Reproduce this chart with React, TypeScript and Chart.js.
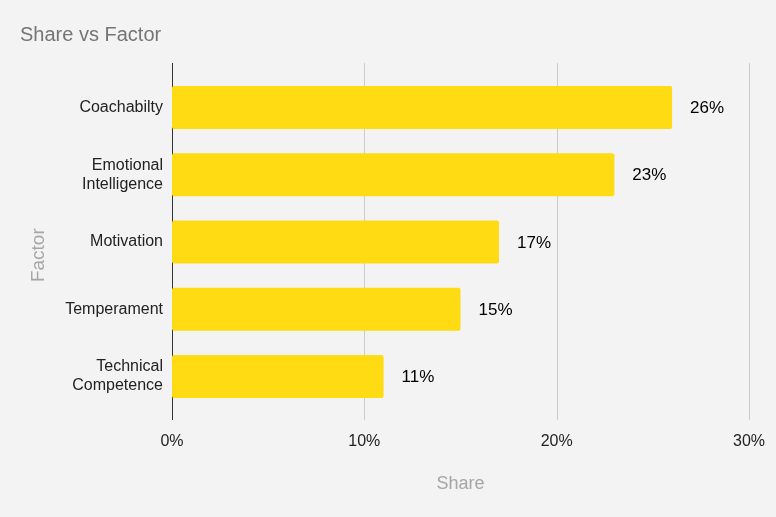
import React, { useEffect, useRef } from "react";
import { Chart, registerables } from "chart.js";

Chart.register(...registerables);

const categories: (string | string[])[] = [
  "Coachabilty",
  ["Emotional", "Intelligence"],
  "Motivation",
  "Temperament",
  ["Technical", "Competence"],
];
const shares: number[] = [26, 23, 17, 15, 11];
const xTicks: number[] = [0, 10, 20, 30];

const FONT = "'Liberation Sans', Arial, Helvetica, sans-serif";

const gridPlugin = {
  id: "extGrid",
  beforeDatasetsDraw(chart: any) {
    const { ctx, chartArea, scales } = chart;
    const xs = scales.x;
    ctx.save();
    ctx.lineWidth = 1;
    xs.ticks.forEach((t: any) => {
      const px = Math.round(xs.getPixelForValue(t.value)) + 0.5;
      ctx.strokeStyle = t.value === 0 ? "#333333" : "#cccccc";
      ctx.beginPath();
      ctx.moveTo(px, chartArea.top - 11);
      ctx.lineTo(px, chartArea.bottom + 10);
      ctx.stroke();
    });
    ctx.restore();
  },
};

const labelPlugin = {
  id: "barLabels",
  afterDatasetsDraw(chart: any) {
    const { ctx } = chart;
    const meta = chart.getDatasetMeta(0);
    const data = chart.data.datasets[0].data as number[];
    ctx.save();
    ctx.font = `17px ${FONT}`;
    ctx.fillStyle = "#000000";
    ctx.textAlign = "left";
    ctx.textBaseline = "middle";
    meta.data.forEach((bar: any, i: number) => {
      ctx.fillText(`${data[i]}%`, bar.x + 18, bar.y + 1);
    });
    ctx.restore();
  },
};

export default function App() {
  const ref = useRef<HTMLCanvasElement | null>(null);

  useEffect(() => {
    if (!ref.current) return;
    Chart.defaults.font.family = FONT;
    const chart = new Chart(ref.current, {
      type: "bar",
      data: {
        labels: categories,
        datasets: [
          {
            data: shares,
            backgroundColor: "#FEDB12",
            borderRadius: 2,
            borderSkipped: false,
            barPercentage: 0.64,
            categoryPercentage: 1,
          },
        ],
      },
      options: {
        indexAxis: "y",
        animation: false,
        responsive: true,
        maintainAspectRatio: false,
        layout: { padding: { left: 20, right: 27, top: 0, bottom: 0 } },
        plugins: {
          legend: { display: false },
          tooltip: { enabled: false },
          title: {
            display: true,
            text: "Share vs Factor",
            align: "start",
            color: "#757575",
            font: { size: 20, weight: "normal", family: FONT },
            padding: { top: 23, bottom: 27 },
          },
        },
        scales: {
          x: {
            type: "linear",
            min: 0,
            max: 30,
            afterFit(scale: any) {
              scale.height = 107;
              scale.paddingLeft = 0;
              scale.paddingRight = 0;
            },
            afterBuildTicks(scale: any) {
              scale.ticks = xTicks.map((v) => ({ value: v }));
            },
            ticks: {
              callback: (v: any) => `${v}%`,
              color: "#222222",
              font: { size: 16, family: FONT },
              padding: 22,
            },
            grid: { display: false, drawTicks: false },
            border: { display: false },
            title: {
              display: true,
              text: "Share",
              color: "#a6a6a6",
              font: { size: 18, family: FONT },
              padding: { top: 0, bottom: 22 },
            },
          },
          y: {
            type: "category",
            afterFit(scale: any) {
              scale.width = 152;
            },
            ticks: {
              color: "#222222",
              font: { size: 16, family: FONT, lineHeight: 1.19 },
              padding: 9,
            },
            grid: { display: false, drawTicks: false },
            border: { display: false },
            title: {
              display: true,
              text: "Factor     ",
              color: "#a6a6a6",
              font: { size: 19, family: FONT },
              padding: { top: 7, bottom: 0 },
            },
          },
        },
      },
      plugins: [gridPlugin, labelPlugin],
    });
    return () => chart.destroy();
  }, []);

  return (
    <div
      style={{
        position: "absolute",
        left: 0,
        top: 0,
        width: 776,
        height: 517,
        background: "#f3f3f3",
      }}
    >
      <canvas ref={ref} />
    </div>
  );
}
